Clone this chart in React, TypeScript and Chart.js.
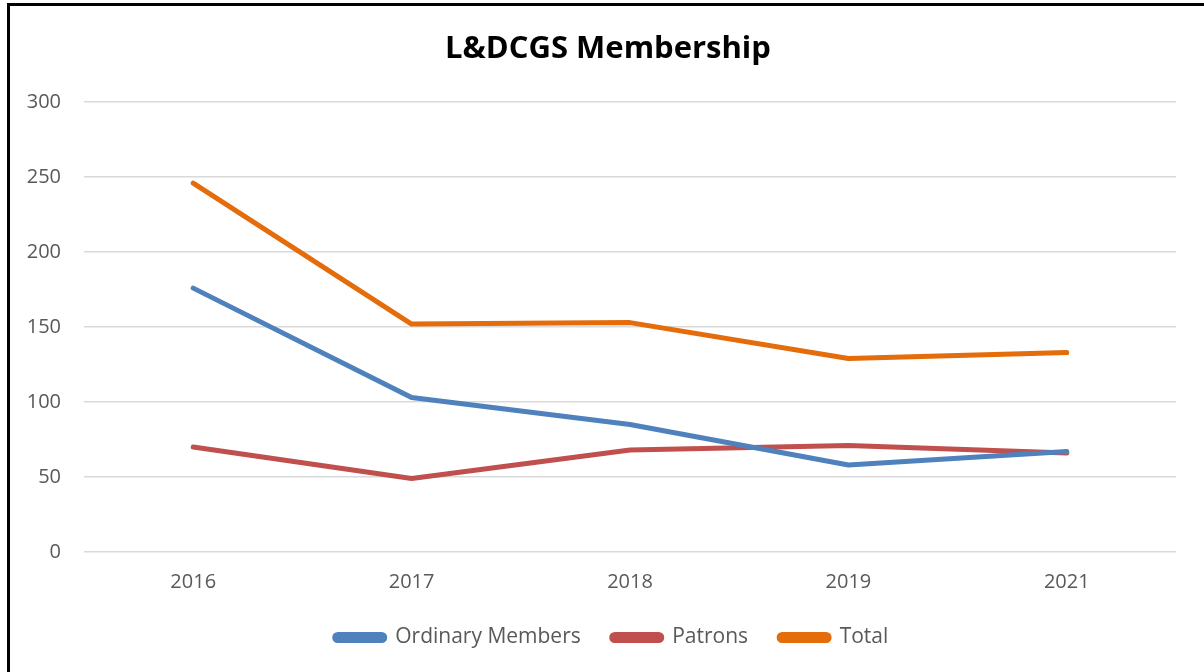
import React, { useEffect, useRef } from "react";
import { Chart, registerables } from "chart.js";

Chart.register(...registerables);

const years = ["2016", "2017", "2018", "2019", "2021"];
const ordinaryMembers = [176, 103, 85, 58, 67];
const patrons = [70, 49, 68, 71, 66];
const total = [246, 152, 153, 129, 133];
const yTicks = [0, 50, 100, 150, 200, 250, 300];

const FONT = "'Open Sans', 'Liberation Sans', sans-serif";

// Re-centre title and legend horizontally (they are centred in the reference on the frame, not the canvas)
const recenterPlugin = {
  id: "recenter",
  afterLayout(chart: any) {
    if (chart.legend) {
      chart.legend.left = 47;
    }
    if (chart.titleBlock) {
      chart.titleBlock.left = 40;
    }
  },
};

export default function App() {
  const ref = useRef<HTMLCanvasElement | null>(null);

  useEffect(() => {
    if (!ref.current) return;
    const mk = (label: string, data: number[], color: string) => ({
      label,
      data,
      borderColor: color,
      backgroundColor: color,
      borderWidth: 5,
      borderCapStyle: "round" as const,
      borderJoinStyle: "round" as const,
      pointRadius: 0,
      pointHoverRadius: 0,
      tension: 0,
    });
    const chart = new Chart(ref.current, {
      type: "line",
      data: {
        labels: years,
        datasets: [
          mk("Ordinary Members", ordinaryMembers, "#4f81bd"),
          mk("Patrons", patrons, "#c0504d"),
          mk("Total", total, "#e46c0a"),
        ],
      },
      plugins: [recenterPlugin],
      options: {
        animation: false,
        responsive: false,
        maintainAspectRatio: false,
        layout: { padding: { left: 0, right: 28, top: 0, bottom: 14 } },
        plugins: {
          title: {
            display: true,
            text: "L&DCGS Membership",
            color: "#000000",
            font: { family: FONT, size: 31, weight: "bold" },
            padding: { top: 31, bottom: 34 },
          },
          legend: {
            position: "bottom",
            labels: {
              color: "#595959",
              font: { family: FONT, size: 21 },
              boxWidth: 50,
              boxHeight: 6,
              useBorderRadius: true,
              borderRadius: 3,
              padding: 31,
            },
          },
          tooltip: { enabled: false },
        },
        scales: {
          x: {
            offset: true,
            afterFit: (scale: any) => {
              scale.height = 44;
            },
            grid: { display: false, drawTicks: false },
            border: { display: false },
            ticks: {
              color: "#595959",
              font: { family: FONT, size: 20 },
              padding: 18,
            },
          },
          y: {
            min: 0,
            max: 300,
            afterBuildTicks: (scale: any) => {
              scale.ticks = yTicks.map((v) => ({ value: v }));
            },
            afterFit: (scale: any) => {
              scale.width = 84;
            },
            grid: { color: "#d9d9d9", lineWidth: 1.5, drawTicks: false },
            border: { display: false },
            ticks: {
              color: "#595959",
              font: { family: FONT, size: 20 },
              padding: 23,
            },
          },
        },
      },
    });
    return () => chart.destroy();
  }, []);

  return (
    <div style={{ position: "fixed", left: 0, top: 0, width: 1204, height: 672, background: "#fff", overflow: "hidden" }}>
      <canvas ref={ref} width={1204} height={672} style={{ position: "absolute", left: 0, top: 0, width: 1204, height: 672 }} />
      <div
        style={{
          position: "absolute",
          left: 7,
          top: 3,
          width: 1230,
          height: 700,
          border: "3px solid #000",
          pointerEvents: "none",
        }}
      />
    </div>
  );
}
